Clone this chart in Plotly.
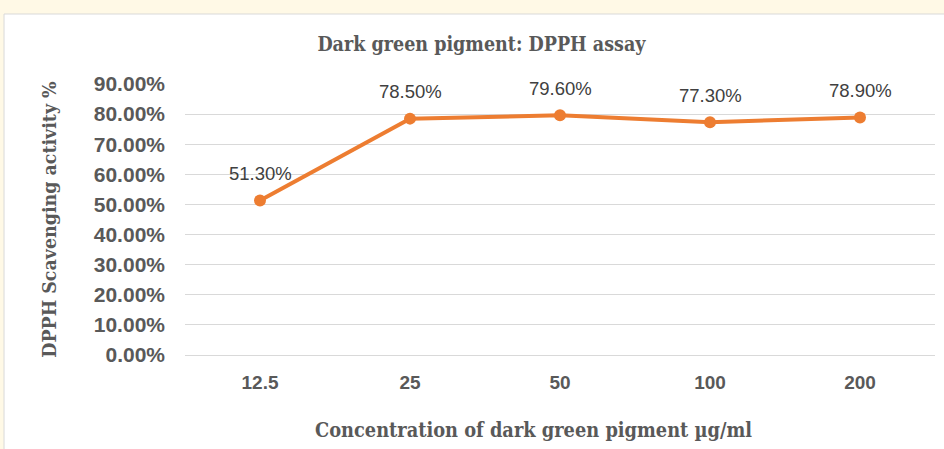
import plotly.graph_objects as go

categories = ["12.5", "25", "50", "100", "200"]
values = [0.513, 0.785, 0.796, 0.773, 0.789]
y_ticks = [0.0, 0.1, 0.2, 0.3, 0.4, 0.5, 0.6, 0.7, 0.8, 0.9]
y_tick_labels = [f"{v*100:.2f}%" for v in y_ticks]

title_text = "Dark green pigment: DPPH assay"
x_title = "Concentration of dark green pigment µg/ml"
y_title = "DPPH Scavenging activity %"

ORANGE = "#ED7D31"
GRID = "#D9D9D9"
TXT = "#595959"
PAGE = "#FFF9E6"
SERIF = "DejaVu Serif Condensed, DejaVu Serif, serif"
SANS = "Liberation Sans, Arial, sans-serif"

fig = go.Figure()
fig.add_trace(go.Scatter(
    x=categories, y=values, mode="lines+markers",
    line=dict(color=ORANGE, width=4),
    marker=dict(color=ORANGE, size=12),
    hoverinfo="skip", showlegend=False,
))

for i, v in enumerate(values):
    fig.add_annotation(x=i, y=v, text=f"{v*100:.2f}%", showarrow=False,
                       yshift=27, font=dict(family=SANS, size=18.5, color="#404040"))

# x-axis title (offset left of plot centre as in the reference)
fig.add_annotation(xref="paper", yref="paper", x=0.4653, y=-0.2768,
                   xanchor="center", yanchor="middle", showarrow=False,
                   text=x_title,
                   font=dict(family=SERIF, size=19.8, color=TXT, weight="bold"))

# white chart frame on yellow page
fig.add_shape(type="rect", xref="paper", yref="paper",
              x0=-0.2413, x1=1.2, y0=-0.6, y1=1.2583,
              fillcolor="white", line=dict(color=GRID, width=1), layer="below")

fig.update_layout(
    width=944, height=449,
    paper_bgcolor=PAGE, plot_bgcolor="rgba(0,0,0,0)",
    margin=dict(l=185, r=9, t=84, b=94),
    title=dict(text=title_text, x=0.51, xanchor="center", y=0.902, yanchor="middle",
               font=dict(family=SERIF, size=19.5, color=TXT, weight="bold")),
    xaxis=dict(type="category", categoryorder="array", categoryarray=categories,
               range=[-0.5, len(categories) - 0.5],
               showgrid=False, showline=False, zeroline=False, ticks="",
               tickfont=dict(family=SANS, size=19, color=TXT, weight="bold"),
               ticklabelstandoff=14),
    yaxis=dict(range=[0, 0.9], tickvals=y_ticks, ticktext=y_tick_labels,
               showgrid=True, gridcolor=GRID, gridwidth=1, zeroline=True,
               zerolinecolor=GRID, zerolinewidth=1, showline=False, ticks="",
               tickfont=dict(family=SANS, size=21, color=TXT, weight="bold"),
               ticklabelstandoff=19,
               title=dict(text=y_title, standoff=31,
                          font=dict(family=SERIF, size=19.4, color=TXT, weight="bold"))),
)

fig.write_html("out.html", config={"displayModeBar": False},
               post_script="document.body.style.margin='0';document.body.style.background='#FFF9E6';")
